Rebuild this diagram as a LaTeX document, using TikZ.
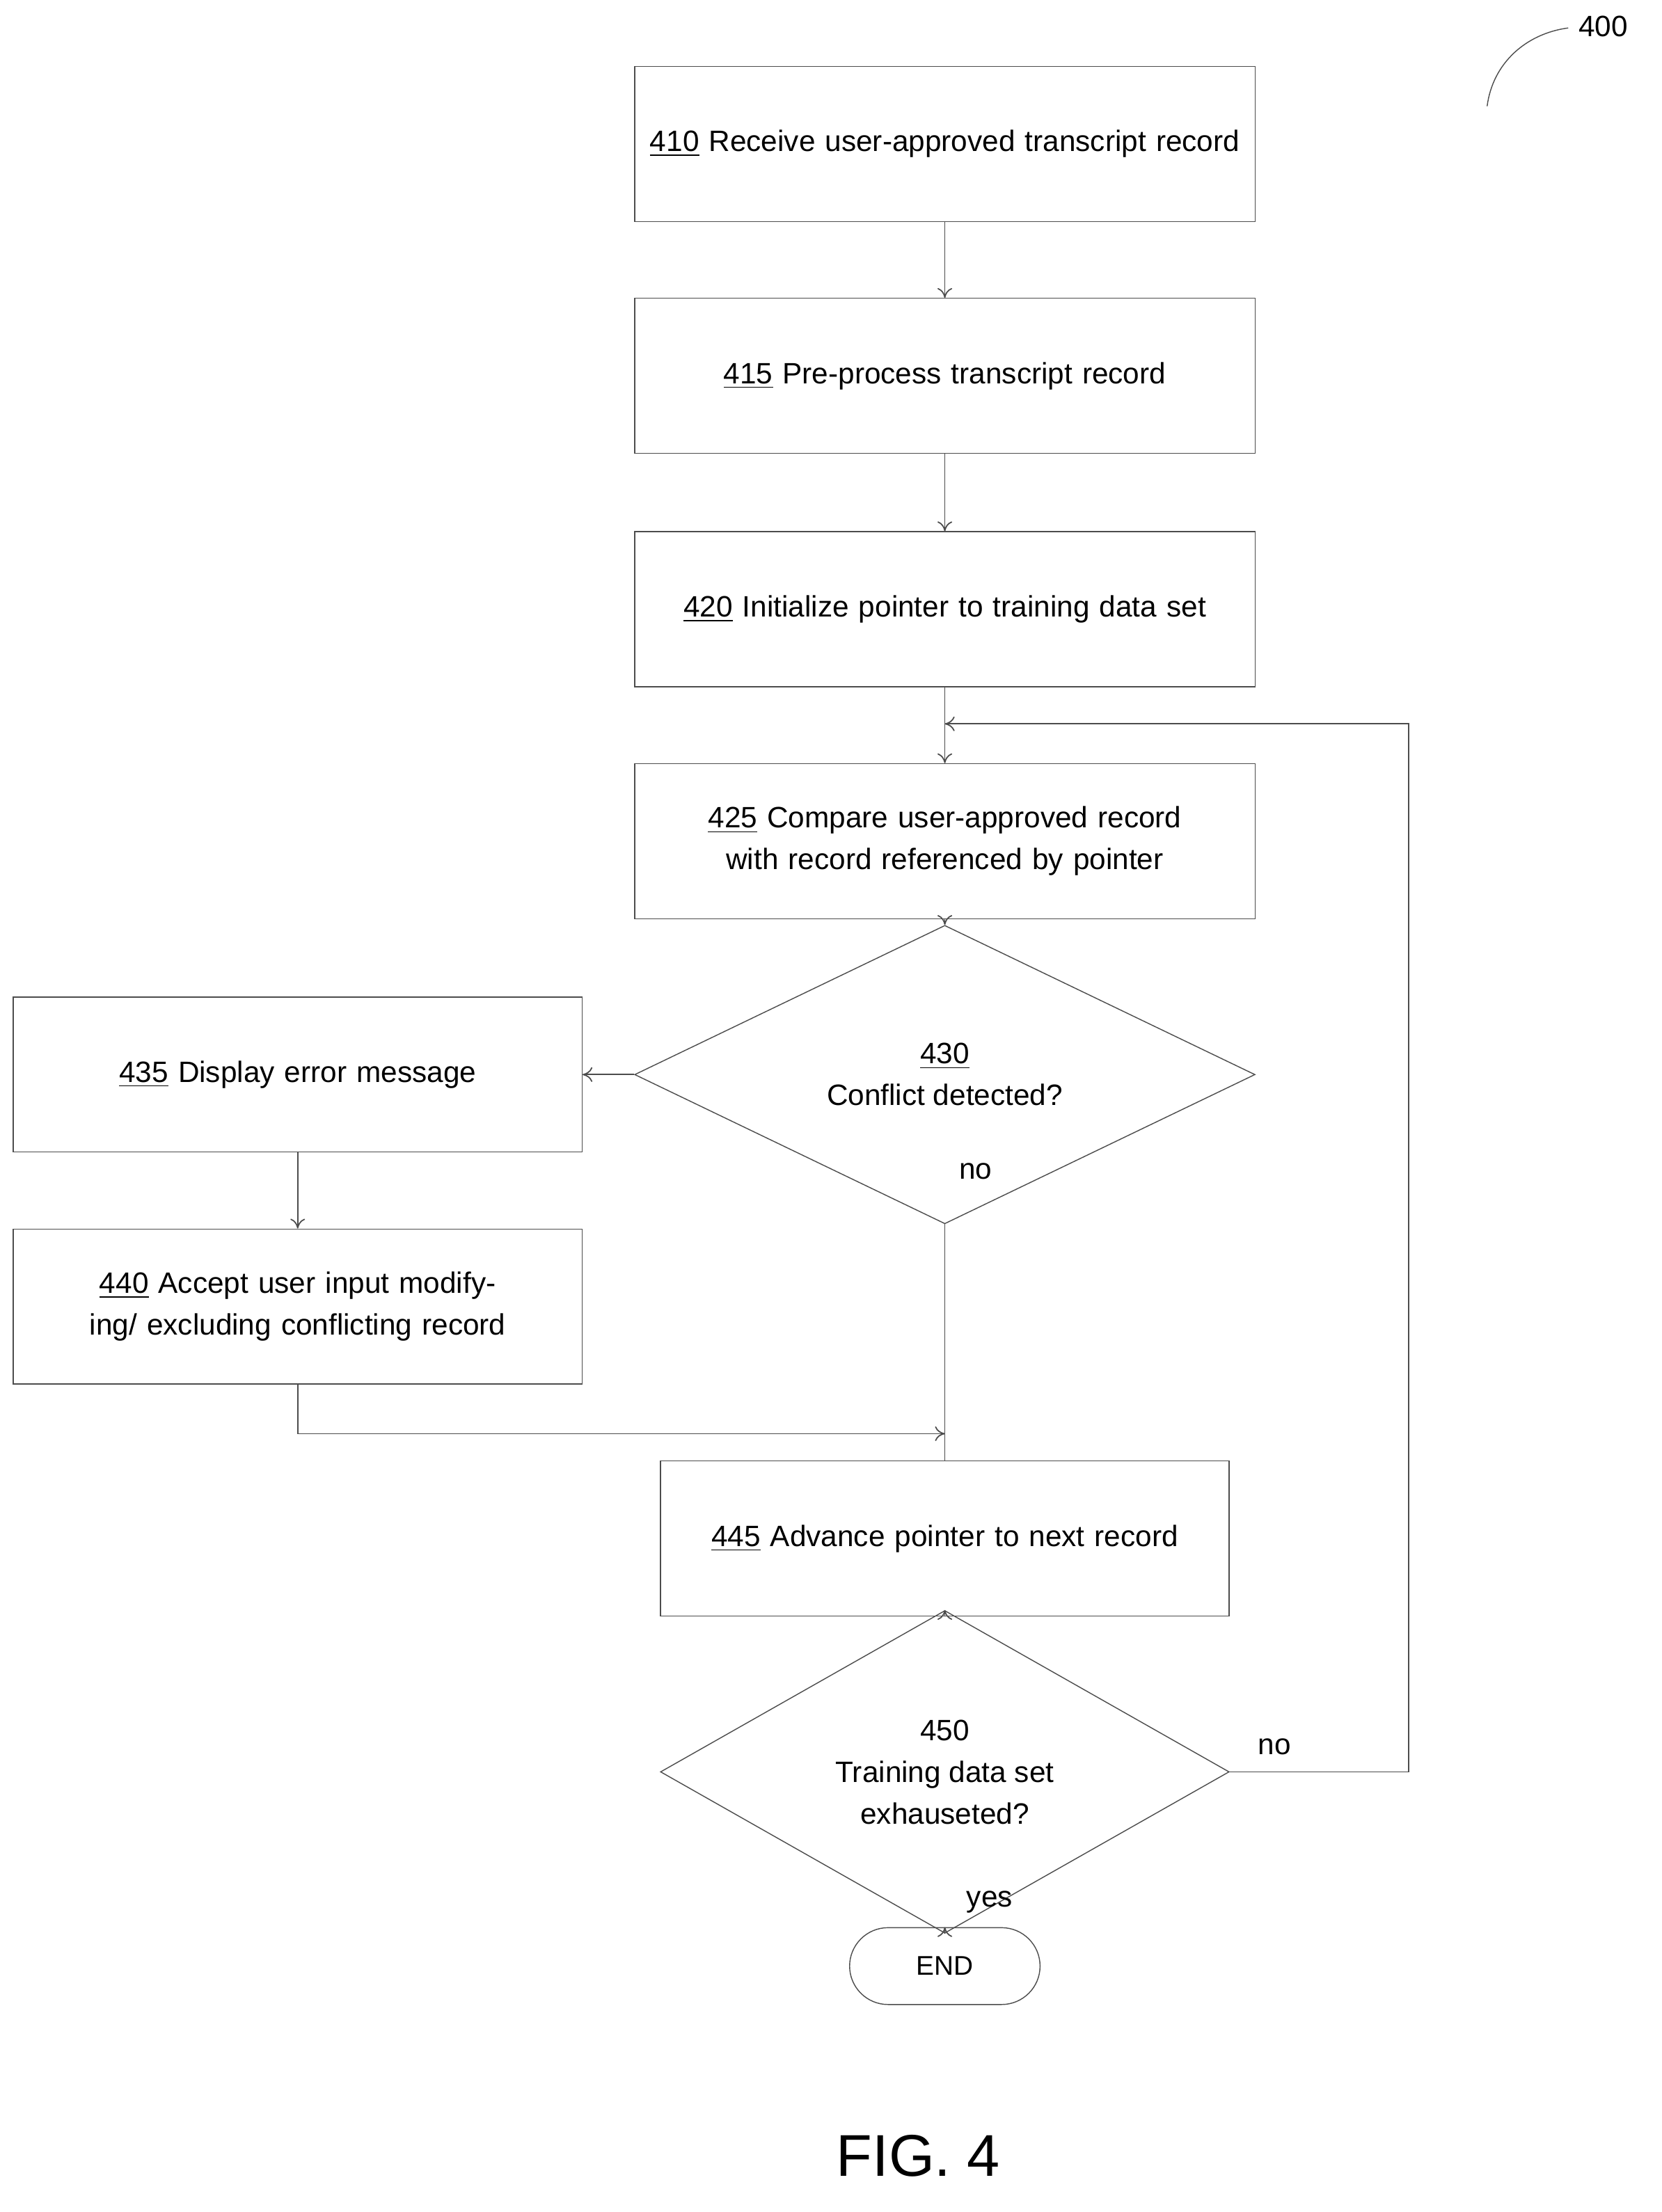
\documentclass[tikz,border=0pt]{standalone}
\usepackage{fontspec}
\setmainfont{Liberation Sans}
\usetikzlibrary{shapes.geometric, shapes.misc, arrows.meta}
\tikzstyle{process} = [rectangle, draw=black!70, minimum width=8.88cm, minimum height=2.22cm, text width=8.5cm, align=center, font=\fontsize{12}{17}\selectfont]
\tikzstyle{wide} = [process, minimum width=8.14cm, text width=7.9cm]
\tikzstyle{decision} = [diamond, draw=black!70, minimum width=8.88cm, minimum height=2.22cm, inner sep=0pt, align=center, font=\fontsize{12}{17}\selectfont]
\tikzstyle{term} = [rounded rectangle, draw=black!70, minimum width=2.96cm, minimum height=1.1cm, font=\fontsize{11}{13}\selectfont]
\tikzstyle{lbl} = [font=\fontsize{12}{14}\selectfont]
\tikzstyle{arrow} = [draw=black!70, line width=0.5pt, -{To[length=4pt,width=6pt]}]

\begin{document}
\begin{tikzpicture}[x=0.02cm, y=-0.02cm]
\useasboundingbox (0,0) rectangle (1189,1583);

\node (s410) [process] at (676,103) {\underline{410} Receive user-approved transcript record};
\node (s415) [process] at (676,269) {\underline{415} Pre-process transcript record};
\node (s420) [process] at (676,436) {\underline{420} Initialize pointer to training data set};
\node (s425) [process] at (676,602) {\underline{425} Compare user-approved record with record referenced by pointer};
\node (d430) [decision] at (676,769) {\underline{430}\\Conflict detected?};
\node (s435) [wide] at (213,769) {\underline{435} Display error message};
\node (s440) [wide] at (213,935) {\underline{440} Accept user input modifying/ excluding conflicting record};
\node (s445) [wide] at (676,1101) {\underline{445} Advance pointer to next record};
\node (d450) [decision, minimum width=8.14cm, minimum height=2.94cm] at (676,1268) {450\\Training data set\\exhauseted?};
\node (stop) [term] at (676,1407) {END};
\coordinate (loop) at (676,518);
\coordinate (merge) at (676,1026);

\draw [arrow] (s410) -- (s415);
\draw [arrow] (s415) -- (s420);
\draw [arrow] (s420) -- (s425);
\draw [arrow] (s425) -- (d430);
\draw [arrow] (d430) -- (s435);
\draw [arrow] (s435) -- (s440);
\draw [draw=black!70] (d430.south) -- (s445.north);
\draw [arrow] (s440.south) |- (merge);
\draw [arrow] (s445) -- (d450);
\draw [arrow] (d450) -- (stop);
\draw [arrow] (d450.east) -- (1008,1268) |- (loop);

\node (no1) [lbl] at (698,838) {no};
\node (no2) [lbl] at (912,1250) {no};
\node (yes) [lbl] at (708,1361) {yes};
\node (ref) [lbl] at (1147,19) {400};
\draw [draw=black!70] (1064,76) .. controls (1068,45) and (1092,24) .. (1122,20);
\node (fig) [font=\fontsize{24}{28}\selectfont] at (657,1543) {FIG. 4};
\end{tikzpicture}
\end{document}
